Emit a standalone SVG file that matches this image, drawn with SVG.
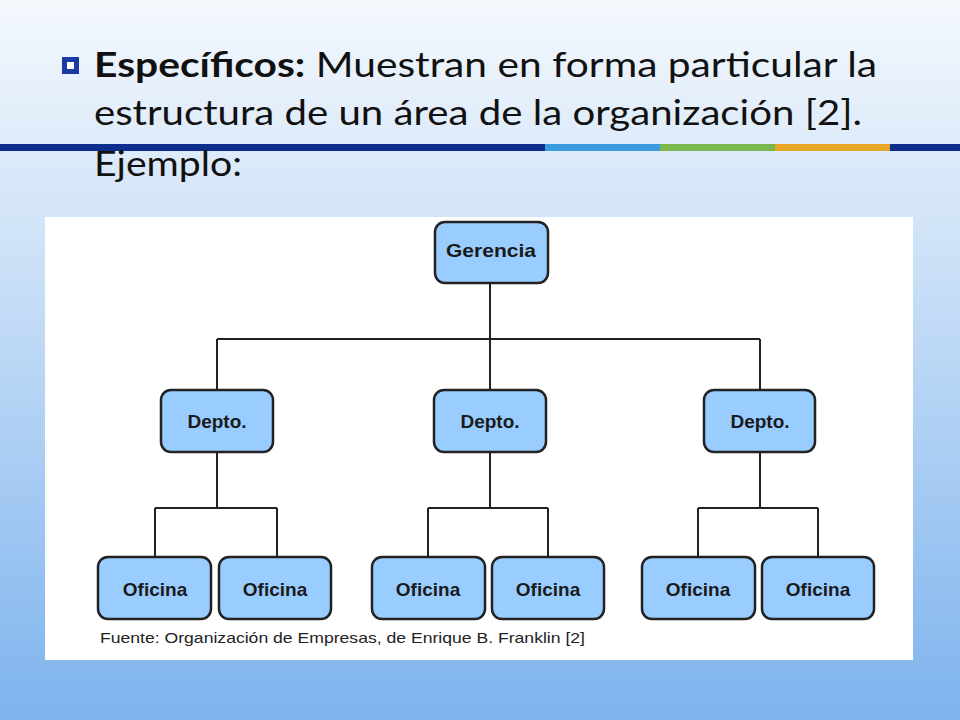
<svg xmlns="http://www.w3.org/2000/svg" width="960" height="720" viewBox="0 0 960 720">
<defs>
<linearGradient id="bg" x1="0" y1="0" x2="0" y2="1">
<stop offset="0" stop-color="#f4f8fd"/><stop offset="0.3" stop-color="#d3e5f8"/><stop offset="1" stop-color="#7db3ee"/>
</linearGradient>
<style>
.n rect{fill:#99ccff;stroke:#222;stroke-width:2.5}
.n text{font-family:"Liberation Sans",Arial,sans-serif;font-weight:bold;font-size:19px;fill:#1a1a1a;text-anchor:middle}
.c{stroke:#222;stroke-width:2;fill:none}
.t{font-family:"Lato","Open Sans",sans-serif;font-size:35px;fill:#111}
</style>
</defs>
<rect width="960" height="720" fill="url(#bg)"/>
<rect x="0" y="144" width="545" height="7" fill="#0d2e8c"/>
<rect x="545" y="144" width="115" height="7" fill="#3a9ae0"/>
<rect x="660" y="144" width="115" height="7" fill="#7ab84e"/>
<rect x="775" y="144" width="115" height="7" fill="#e8a627"/>
<rect x="890" y="144" width="70" height="7" fill="#0d2e8c"/>
<rect x="62" y="57" width="17" height="17" fill="#1b3aa5"/>
<rect x="67" y="62" width="7" height="7" fill="#fff"/>
<text class="t" x="94" y="77" textLength="783" lengthAdjust="spacingAndGlyphs"><tspan font-weight="bold">Específicos:</tspan> Muestran en forma particular la</text>
<text class="t" x="94" y="125" textLength="768" lengthAdjust="spacingAndGlyphs">estructura de un área de la organización [2].</text>
<text class="t" x="94" y="176" textLength="148" lengthAdjust="spacingAndGlyphs">Ejemplo:</text>
<rect x="45" y="217" width="868" height="443" fill="#fff"/>
<g id="connectors">
<path class="c" d="M490 283V339M217 339H760M217 339V390M490 339V390M760 339V390"/>
<path class="c" d="M217 452V508M155 508H277M155 508V557M277 508V557"/>
<path class="c" d="M490 452V508M428 508H548M428 508V557M548 508V557"/>
<path class="c" d="M760 452V508M698 508H818M698 508V557M818 508V557"/>
</g>
<g id="gerencia" class="n"><rect x="435" y="222" width="113" height="61" rx="10"/><text x="491" y="257" textLength="90" lengthAdjust="spacingAndGlyphs">Gerencia</text></g>
<g id="depto1" class="n"><rect x="161" y="390" width="112" height="62" rx="10"/><text x="217" y="428">Depto.</text></g>
<g id="depto2" class="n"><rect x="434" y="390" width="112" height="62" rx="10"/><text x="490" y="428">Depto.</text></g>
<g id="depto3" class="n"><rect x="704" y="390" width="111" height="62" rx="10"/><text x="760" y="428">Depto.</text></g>
<g id="of1" class="n"><rect x="98" y="557" width="113" height="62" rx="10"/><text x="155" y="596">Oficina</text></g>
<g id="of2" class="n"><rect x="219" y="557" width="112" height="62" rx="10"/><text x="275" y="596">Oficina</text></g>
<g id="of3" class="n"><rect x="372" y="557" width="113" height="62" rx="10"/><text x="428" y="596">Oficina</text></g>
<g id="of4" class="n"><rect x="492" y="557" width="112" height="62" rx="10"/><text x="548" y="596">Oficina</text></g>
<g id="of5" class="n"><rect x="642" y="557" width="113" height="62" rx="10"/><text x="698" y="596">Oficina</text></g>
<g id="of6" class="n"><rect x="762" y="557" width="112" height="62" rx="10"/><text x="818" y="596">Oficina</text></g>
<text x="100" y="643" font-family="Liberation Sans,Arial,sans-serif" font-size="15" fill="#222" textLength="485" lengthAdjust="spacingAndGlyphs">Fuente: Organización de Empresas, de Enrique B. Franklin [2]</text>
</svg>
